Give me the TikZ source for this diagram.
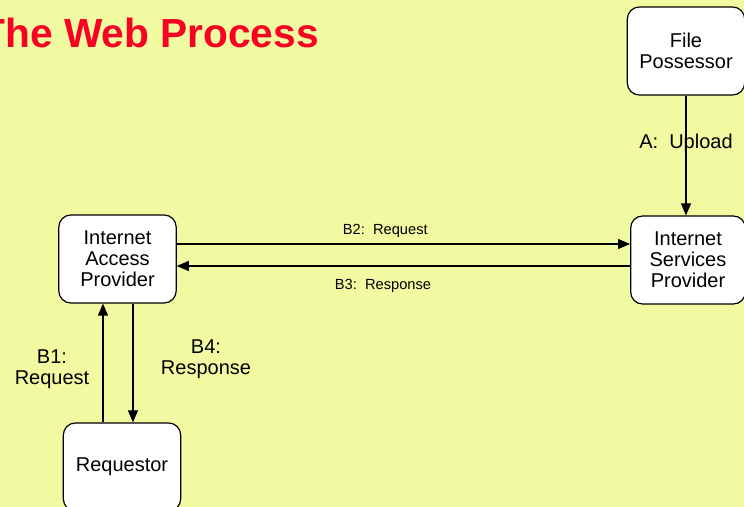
\documentclass[tikz,border=0pt]{standalone}
\usepackage{fontspec}
\setmainfont{Liberation Sans}
\usepackage{tikz}
\usetikzlibrary{calc}
\usetikzlibrary{arrows.meta}
\definecolor{slidebg}{RGB}{240,250,160}
\definecolor{titlered}{RGB}{250,0,35}
\tikzset{
   party/.style={draw=black, line width=0.9pt, fill=white, rounded corners=9pt,
      minimum width=88pt, minimum height=66pt, inner sep=0pt,
      align=center, font=\fontsize{15}{15.75}\selectfont},
   flow/.style={draw=black, line width=0.8pt,
      -{Triangle[length=9pt,width=7.5pt]}},
   biglabel/.style={align=center, font=\fontsize{15}{15.75}\selectfont},
   smalllabel/.style={font=\fontsize{11}{12}\selectfont},
   }
\begin{document}
\begin{tikzpicture}[x=0.75pt,y=-0.75pt]
            \fill[slidebg] (0,0) rectangle (744,507);
            \useasboundingbox (0,0) rectangle (744,507);
            \node[anchor=base east, inner sep=0pt, text=titlered, font=\fontsize{30.5}{36}\selectfont\bfseries] (title) at (319,47.5) {The Web Process};
            % the four parties
            \node[party] (file) at (686,51) {File\\Possessor};
            \node[party] (iap) at (117.5,259) {Internet\\Access\\Provider};
            \node[party, minimum width=86pt] (isp) at (688,260) {Internet\\Services\\Provider};
            \node[party] (req) at (122,467) {Requestor};
            % upload
            \draw[flow] (file.south) -- (file.south |- isp.north)
               node[biglabel, pos=0.4] (lA) {A:\ \ Upload};
            % provider to provider
            \draw[flow] ([yshift=11.25pt]iap.east) -- ([yshift=11.25pt]iap.east -| isp.west)
               node[smalllabel, above=1pt, pos=0.46] (lB2) {B2:\ \ Request};
            \draw[flow] ([yshift=-5.25pt]iap.east -| isp.west) -- ([yshift=-5.25pt]iap.east)
               node[smalllabel, below=6pt, pos=0.545] (lB3) {B3:\ \ Response};
            % requestor to access provider
            \draw[flow] ([xshift=-10.9pt]iap.south |- req.north) -- ([xshift=-10.9pt]iap.south);
            \draw[flow] ([xshift=11.6pt]iap.south) -- ([xshift=11.6pt]iap.south |- req.north);
            \node[biglabel] (lB1) at (52,369) {B1:\\Request};
            \node[biglabel] (lB4) at (206,359) {B4:\\Response};
        \end{tikzpicture}
\end{document}
